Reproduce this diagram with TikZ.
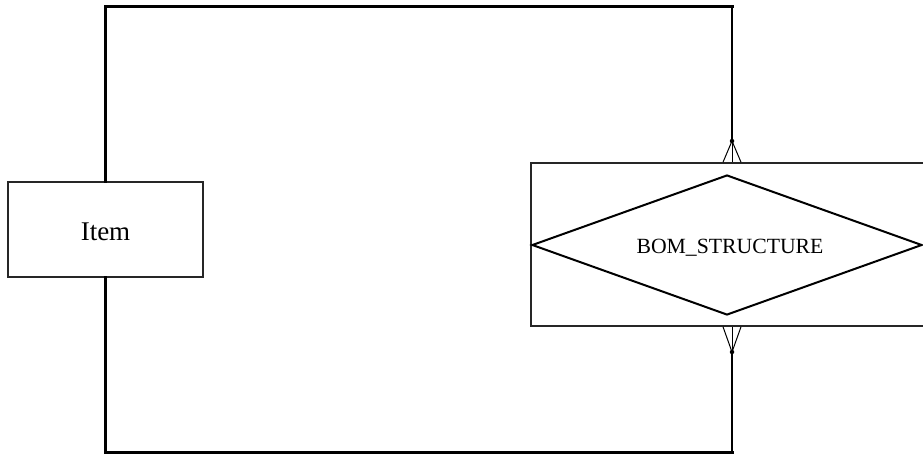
\documentclass[tikz,border=0pt]{standalone}
\usepackage{fontspec}
\setmainfont{Liberation Serif}
\usetikzlibrary{shapes.geometric,calc}
\begin{document}
\begin{tikzpicture}[x=1pt,y=-1pt,
  entbox/.style={draw=black!85,line width=1.6pt,rectangle,inner sep=0pt},
  relbox/.style={draw=black,line width=2pt,diamond,inner sep=0pt,aspect=2.8,minimum width=390pt,minimum height=140pt},
  conn/.style={draw=black,line width=3pt},
  fork/.style={draw=black,line width=1pt},
  dotmark/.style={fill=black,circle,inner sep=0pt,minimum size=4.5pt}]
\useasboundingbox (0,0) rectangle (923,456);
\node[entbox,minimum width=195pt,minimum height=95pt] (item) at (105.5,229.5) {};
\node[font=\fontsize{27}{30}\selectfont,inner sep=0pt] (itemlabel) at ([yshift=-2pt]item.center) {Item};
\node[entbox,minimum width=393pt,minimum height=163pt] (bom) at (727.5,244.5) {};
\node[relbox] (rel) at (727,245) {};
\node[font=\fontsize{21.7}{24}\selectfont,inner sep=0pt] (rellabel) at ([xshift=3pt,yshift=-3pt]rel.center) {BOM\_STRUCTURE};
\coordinate (tr) at (732,6);
\coordinate (br) at (732,452);
\node[dotmark] (d1) at (732,141) {};
\node[dotmark] (d2) at (732,352) {};
% top connector
\draw[conn,line cap=rect] (item.north) |- (tr);
\draw[draw=black,line width=2pt] (tr) -- (d1.center);
\draw[fork] (d1.center) -- (d1 |- bom.north);
\draw[fork] (d1.center) -- ($(d1 |- bom.north)+(-9,0)$);
\draw[fork] (d1.center) -- ($(d1 |- bom.north)+(9,0)$);
% bottom connector
\draw[conn,line cap=rect] (item.south) |- (br);
\draw[draw=black,line width=2pt] (br) -- (d2.center);
\draw[fork] (d2.center) -- (d2 |- bom.south);
\draw[fork] (d2.center) -- ($(d2 |- bom.south)+(-9,0)$);
\draw[fork] (d2.center) -- ($(d2 |- bom.south)+(9,0)$);
\end{tikzpicture}
\end{document}
